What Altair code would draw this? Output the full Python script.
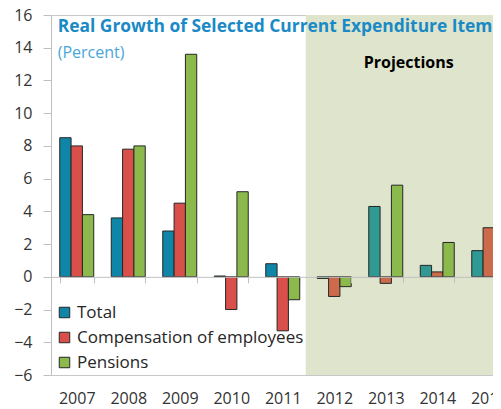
import altair as alt
import pandas as pd

years = ["2007", "2008", "2009", "2010", "2011", "2012", "2013", "2014", "2015"]
series_names = ["Total", "Compensation of employees", "Pensions"]
total = [8.5, 3.6, 2.8, 0.05, 0.8, -0.1, 4.3, 0.7, 1.6]
compensation = [8.0, 7.8, 4.5, -2.0, -3.3, -1.2, -0.4, 0.3, 3.0]
pensions = [3.8, 8.0, 13.6, 5.2, -1.4, -0.6, 5.6, 2.1, -0.3]
projection_years = ["2012", "2013", "2014", "2015"]

hist_colors = ["#0f86a8", "#d9504a", "#8cb94b"]
proj_colors = ["#309994", "#cb6b4b", "#8cb94b"]

title_text = "Real Growth of Selected Current Expenditure Items"
subtitle_text = "(Percent)"
proj_label = "Projections"

rows = []
for name, vals in zip(series_names, [total, compensation, pensions]):
    for y, v in zip(years, vals):
        key = name + "|P" if y in projection_years else name
        rows.append({"year": y, "series": name, "value": v, "key": key})
df = pd.DataFrame(rows)

color_domain = series_names + [n + "|P" for n in series_names]
color_range = hist_colors + proj_colors

FONT = "Open Sans"
W, H = 463.5, 360

x_scale = alt.Scale(domain=years, paddingInner=0.34, paddingOuter=0.17, round=False)
y_scale = alt.Scale(domain=[-6, 16], nice=False, zero=False)

x_axis = alt.Axis(title=None, orient="bottom", offset=-H * 6 / 22,
                  tickBand="extent", tickSize=6, tickColor="#c0c0c0",
                  domainColor="#c0c0c0", labelAngle=0, labelFont=FONT,
                  labelFontSize=16, labelColor="#333333", labelPadding=108)
y_axis = alt.Axis(title=None, values=list(range(-6, 17, 2)), grid=False,
                  tickSize=8, tickColor="#c0c0c0", domainColor="#c0c0c0",
                  labelFont=FONT, labelFontSize=16, labelColor="#333333",
                  labelPadding=11, labelOverlap=False)

one = pd.DataFrame({"a": [0]})

bg = alt.Chart(one).mark_rect(color="#dfe5cc", xOffset=6).encode(
    x=alt.XDatum("2011", type="nominal", bandPosition=1, axis=x_axis, scale=x_scale),
    x2=alt.X2Datum("2015", bandPosition=1),
    y=alt.YDatum(16, type="quantitative", axis=y_axis, scale=y_scale),
    y2=alt.Y2Datum(-6),
)

bars = alt.Chart(df).mark_bar(stroke="#262626", strokeWidth=1).encode(
    x=alt.X("year:N", scale=x_scale, sort=years, axis=x_axis),
    xOffset=alt.XOffset("series:N", sort=series_names,
                        scale=alt.Scale(domain=series_names)),
    y=alt.Y("value:Q", scale=y_scale, axis=y_axis),
    color=alt.Color("key:N", scale=alt.Scale(domain=color_domain, range=color_range),
                    legend=alt.Legend(orient="none", legendX=5, legendY=289, title=None,
                                      values=series_names, symbolType="square",
                                      symbolSize=110, symbolStrokeColor="#262626",
                                      symbolStrokeWidth=1, symbolOpacity=1,
                                      labelFont=FONT, labelFontSize=17, labelLimit=0,
                                      labelColor="#262626", rowPadding=7,
                                      labelOffset=4)),
)

def label_layer(text, x_year, band, dx, dy, **kw):
    return alt.Chart(one).mark_text(
        text=text, font=FONT, baseline="alphabetic", dx=dx, dy=dy, **kw
    ).encode(
        x=alt.XDatum(x_year, type="nominal", bandPosition=band, axis=x_axis, scale=x_scale),
        y=alt.YDatum(16, type="quantitative", axis=y_axis, scale=y_scale),
    )

title = label_layer(title_text, "2007", 0, -2, 17, fontSize=17.4, fontWeight="bold",
                    color="#1a8ac6", align="left")
subtitle = label_layer(subtitle_text, "2007", 0, -2, 43, fontSize=16,
                       color="#4aa6d8", align="left")
proj = label_layer(proj_label, "2013", 1, 6, 53, fontSize=16, fontWeight="bold",
                   color="#000000", align="center")

chart = alt.layer(bg, bars, title, subtitle, proj).properties(
    width=W, height=H,
    autosize=alt.AutoSizeParams(type="none"),
    padding={"left": 43, "top": 7, "right": -21.5, "bottom": 34},
).configure_view(stroke="#c8c8c8", strokeWidth=1).configure_axis(labelOverlap=False)

chart.save("out.html", embed_options={"renderer": "svg", "actions": False})
